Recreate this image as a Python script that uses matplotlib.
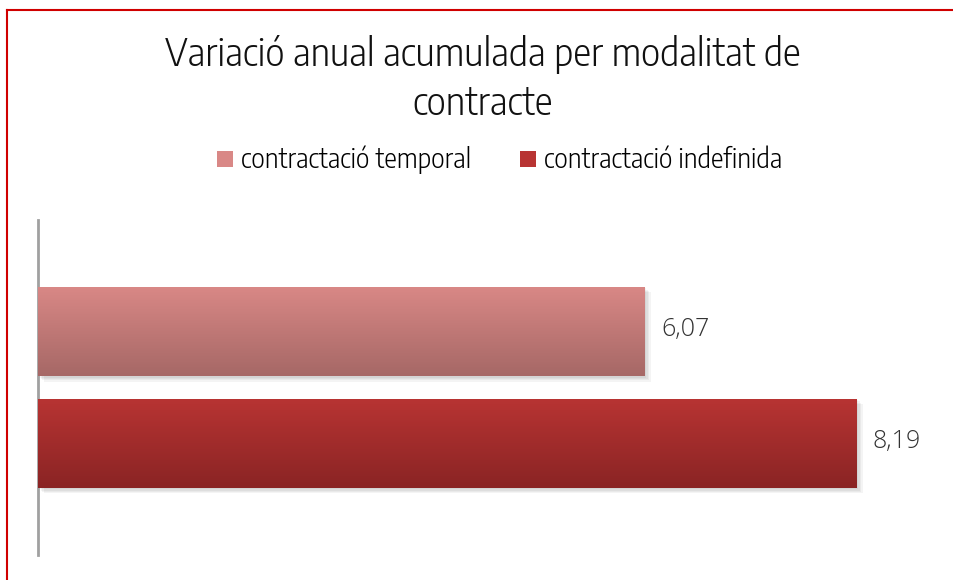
import numpy as np
import matplotlib
matplotlib.use("Agg")
import matplotlib.pyplot as plt
from matplotlib.lines import Line2D
from matplotlib.patches import Patch

categories = ["contractació temporal", "contractació indefinida"]
values = [6.07, 8.19]
labels = ["6,07", "8,19"]
top_colors = ["#d98886", "#b83433"]
bottom_colors = ["#a66866", "#8a2424"]

title = "Variació anual acumulada per modalitat de\ncontracte"
cond_font = "Encode Sans Semi Condensed"

fig = plt.figure(figsize=(9.54, 5.8), dpi=100)
ax = fig.add_axes([38 / 954, 1 - 555 / 580, (938 - 38) / 954, (555 - 220) / 580])

ypos = np.arange(len(values))
bars = ax.barh(ypos, values, height=0.8, color=top_colors, zorder=2)


def hex_rgb(h):
    h = h.lstrip("#")
    return np.array([int(h[i:i + 2], 16) / 255 for i in (0, 2, 4)])


# gradient fill + soft shadow for each bar
for bar, c0, c1 in zip(bars, top_colors, bottom_colors):
    x0, y0 = bar.get_x(), bar.get_y()
    w, h = bar.get_width(), bar.get_height()
    t = np.linspace(0, 1, 100)[:, None]
    grad = (1 - t) * hex_rgb(c0) + t * hex_rgb(c1)
    img = np.repeat(grad[:, None, :], 2, axis=1)
    im = ax.imshow(img, extent=(x0, x0 + w, y0 + h, y0), aspect="auto",
                   interpolation="bilinear", zorder=3, origin="upper")
    im.set_clip_path(bar)
    for k in range(1, 5):
        ax.add_patch(plt.Rectangle((x0 + 0.015 * k, y0 + 0.012 * k), w, h,
                                   color="black", alpha=0.045, lw=0, zorder=1))

for y, v, lab in zip(ypos, values, labels):
    ax.text(v + 0.16, y - 0.02, lab, va="center", ha="left", fontsize=18,
            family="Open Sans", weight="light", color="#333333")

ax.set_xlim(0, 9)
ax.set_ylim(2.0, -1.0)
for s in ["top", "right", "bottom"]:
    ax.spines[s].set_visible(False)
ax.spines["left"].set_color("#a0a0a0")
ax.spines["left"].set_linewidth(2)
ax.set_xticks([])
ax.set_yticks([])

fig.text(0.506, 1 - 79 / 580, title, ha="center", va="center", fontsize=27,
         family=cond_font, weight=300, color="#111111", linespacing=1.3)

handles = [Patch(facecolor=c, edgecolor="none") for c in top_colors]
fig.legend(handles, categories, loc="center", bbox_to_anchor=(0.5235, 1 - 160 / 580),
           ncol=2, frameon=False, handlelength=0.6, handleheight=0.6,
           handletextpad=0.3, columnspacing=1.86,
           prop={"family": cond_font, "weight": 300, "size": 19})

# outer red border (top and left)
fig.add_artist(Line2D([7 / 954, 1], [1 - 10 / 580, 1 - 10 / 580], color="#d00000", lw=1.5))
fig.add_artist(Line2D([7 / 954, 7 / 954], [0, 1 - 10 / 580], color="#d00000", lw=1.5))

fig.savefig("out.png", dpi=100)
